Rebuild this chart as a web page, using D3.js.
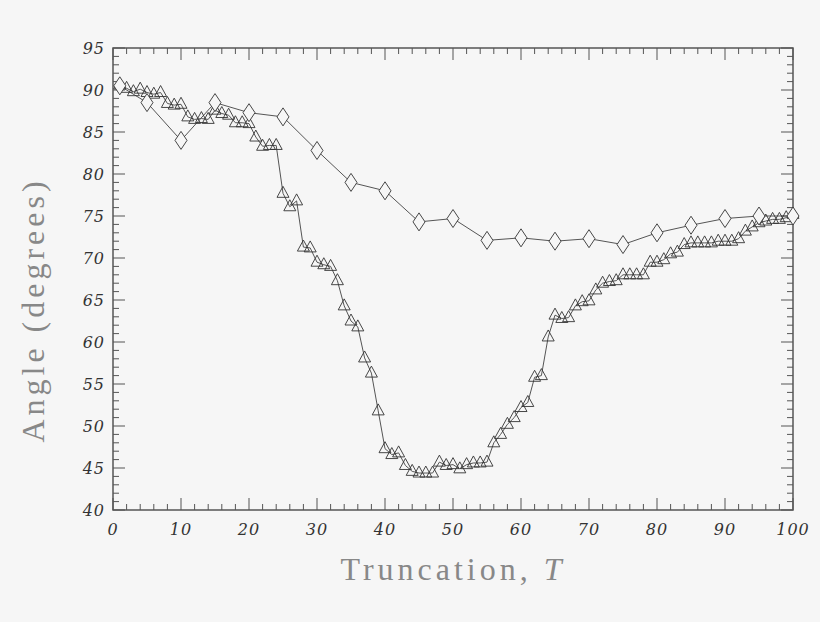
<!DOCTYPE html><html><head><meta charset="utf-8"><script src="https://cdn.jsdelivr.net/npm/d3@7"></script>
<style>body{margin:0;background:#f6f6f6}</style></head><body><svg id="c" width="820" height="622"></svg>
<script>
const diamondT=[1,5,10,15,20,25,30,35,40,45,50,55,60,65,70,75,80,85,90,95,100];
const diamondA=[90.5,88.5,84,88.5,87.3,86.8,82.8,79,78,74.3,74.7,72.1,72.4,72,72.3,71.6,73,73.9,74.7,75,75];
const triT=d3.range(1,101);
const triA=[90.6,90.2,89.8,90.1,89.7,89.5,89.7,88.4,88.2,88.3,86.8,86.5,86.6,86.5,87.6,87.2,87.0,86.1,86.1,86.0,
84.4,83.3,83.4,83.4,77.7,76.1,76.8,71.3,71.2,69.5,69.2,69.0,67.3,64.3,62.5,61.8,58.1,56.3,51.8,47.3,
46.6,46.8,45.3,44.6,44.4,44.4,44.4,45.7,45.3,45.4,44.9,45.4,45.6,45.6,45.7,48.0,49.0,50.2,51.0,52.2,
52.8,55.8,56.0,60.6,63.2,62.8,62.9,64.3,64.8,64.9,66.2,67.0,67.2,67.3,68.0,68.0,68.0,68.0,69.5,69.5,
69.8,70.5,70.7,71.6,71.8,71.8,71.8,71.8,72.0,72.0,72.0,72.3,73.2,73.7,74.2,74.4,74.6,74.6,74.8,75.2];
const xTicks=d3.range(0,101,10), yTicks=d3.range(40,96,5);
const svg=d3.select("#c");
const L=113,R=793,T=48,B=510;
const x=d3.scaleLinear().domain([0,100]).range([L,R]);
const y=d3.scaleLinear().domain([40,95]).range([B,T]);
const col="#555";
svg.append("rect").attr("x",L).attr("y",T).attr("width",R-L).attr("height",B-T).attr("fill","none").attr("stroke",col).attr("stroke-width",1.5);
const g=svg.append("g").attr("stroke",col).attr("stroke-width",1);
d3.range(0,101,2).forEach(v=>{const len=v%10==0?12:6;
 g.append("line").attr("x1",x(v)).attr("x2",x(v)).attr("y1",B).attr("y2",B-len);
 g.append("line").attr("x1",x(v)).attr("x2",x(v)).attr("y1",T).attr("y2",T+len);});
d3.range(40,96,1).forEach(v=>{const len=v%5==0?12:6;
 g.append("line").attr("y1",y(v)).attr("y2",y(v)).attr("x1",L).attr("x2",L+len);
 g.append("line").attr("y1",y(v)).attr("y2",y(v)).attr("x1",R).attr("x2",R-len);});
const tf="'DejaVu Serif'";
svg.selectAll(".xt").data(xTicks).join("text").attr("x",d=>x(d)).attr("y",B+25).attr("text-anchor","middle")
 .attr("font-family",tf).attr("font-style","italic").attr("font-size",16).attr("letter-spacing",1).attr("fill","#333").text(d=>d);
svg.selectAll(".yt").data(yTicks).join("text").attr("x",L-8).attr("y",d=>y(d)+6).attr("text-anchor","end")
 .attr("font-family",tf).attr("font-style","italic").attr("font-size",16).attr("letter-spacing",1).attr("fill","#333").text(d=>d);
svg.append("text").attr("x",453).attr("y",580).attr("text-anchor","middle").attr("font-family","'Liberation Serif'").attr("font-size",32).attr("letter-spacing",4).attr("fill","#888")
 .html("Truncation, <tspan font-style='italic'>T</tspan>");
svg.append("text").attr("transform","translate(44,310) rotate(-90)").attr("text-anchor","middle").attr("font-family","'Liberation Serif'").attr("font-size",32).attr("letter-spacing",4).attr("fill","#888").text("Angle (degrees)");
const line=d3.line().x(d=>x(d[0])).y(d=>y(d[1]));
const dd=diamondT.map((t,i)=>[t,diamondA[i]]), td=triT.map((t,i)=>[t,triA[i]]);
svg.append("path").attr("d",line(dd)).attr("fill","none").attr("stroke",col).attr("stroke-width",1);
svg.append("path").attr("d",line(td)).attr("fill","none").attr("stroke",col).attr("stroke-width",1);
svg.selectAll(".tri").data(td).join("path").attr("transform",d=>`translate(${x(d[0])},${y(d[1])})`)
 .attr("d","M0,-7L6,4L-6,4Z").attr("fill","none").attr("stroke","#333").attr("stroke-width",0.9);
svg.selectAll(".dia").data(dd).join("path").attr("transform",d=>`translate(${x(d[0])},${y(d[1])})`)
 .attr("d","M0,-9L6,0L0,9L-6,0Z").attr("fill","#f6f6f6").attr("stroke","#333").attr("stroke-width",0.9);
</script></body></html>
